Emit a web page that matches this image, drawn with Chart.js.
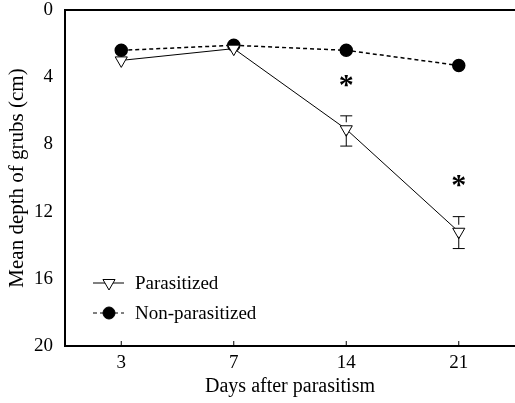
<!DOCTYPE html>
<html>
<head>
<meta charset="utf-8">
<script src="https://cdn.jsdelivr.net/npm/chart.js@4/dist/chart.umd.min.js"></script>
<style>
  html, body { margin: 0; padding: 0; background: #fff; }
  #wrap { width: 515px; height: 403px; }
</style>
</head>
<body>
<div id="wrap"><canvas id="chart"></canvas></div>
<script>
// data
const days = ['3', '7', '14', '21'];
const parasitized = [3.0, 2.3, 7.1, 13.2];
const nonParasitized = [2.4, 2.1, 2.4, 3.3];
const errTop = [null, null, 6.3, 12.3];
const errBottom = [null, null, 8.1, 14.2];
const starY = [null, null, 4.35, 10.3];
const yTicks = [0, 4, 8, 12, 16, 20];

const serif = '"Liberation Serif", "DejaVu Serif", serif';

// error bars + asterisks + top border + inward x ticks + legend
const extras = {
    id: 'extras',
    afterDatasetsDraw(chart) {
        const { ctx, chartArea, scales: { x, y } } = chart;
        ctx.save();
        ctx.strokeStyle = '#000';
        ctx.lineWidth = 1;

        // error bars
        days.forEach((d, i) => {
            if (errTop[i] == null) return;
            const px = x.getPixelForValue(i);
            const yc = y.getPixelForValue(parasitized[i]);
            const yt = y.getPixelForValue(errTop[i]);
            const yb = y.getPixelForValue(errBottom[i]);
            ctx.beginPath();
            ctx.moveTo(px, yt); ctx.lineTo(px, yc - 7);
            ctx.moveTo(px, yc + 5); ctx.lineTo(px, yb);
            ctx.moveTo(px - 6, yt); ctx.lineTo(px + 6, yt);
            ctx.moveTo(px - 6, yb); ctx.lineTo(px + 6, yb);
            ctx.stroke();
        });

        // asterisks
        ctx.fillStyle = '#000';
        ctx.font = 'bold 30px ' + serif;
        ctx.textAlign = 'center';
        ctx.textBaseline = 'middle';
        days.forEach((d, i) => {
            if (starY[i] == null) return;
            ctx.fillText('*', x.getPixelForValue(i), y.getPixelForValue(starY[i]) + 3);
        });

        // top border
        ctx.lineWidth = 2;
        ctx.beginPath();
        ctx.moveTo(chartArea.left, chartArea.top);
        ctx.lineTo(chartArea.right, chartArea.top);
        ctx.stroke();

        // inward ticks on x axis
        ctx.lineWidth = 1;
        days.forEach((d, i) => {
            const px = x.getPixelForValue(i);
            ctx.beginPath();
            ctx.moveTo(px, chartArea.bottom);
            ctx.lineTo(px, chartArea.bottom - 5);
            ctx.stroke();
        });

        // legend
        const rows = [
            { label: 'Parasitized', ds: chart.data.datasets[0], y: 283 },
            { label: 'Non-parasitized', ds: chart.data.datasets[1], y: 313 }
        ];
        ctx.font = '19px ' + serif;
        ctx.textAlign = 'left';
        ctx.textBaseline = 'middle';
        rows.forEach(r => {
            ctx.lineWidth = 1;
            ctx.strokeStyle = '#000';
            ctx.setLineDash(r.ds.borderDash || []);
            ctx.beginPath();
            ctx.moveTo(93, r.y); ctx.lineTo(124, r.y);
            ctx.stroke();
            ctx.setLineDash([]);
            ctx.fillStyle = r.ds.pointBackgroundColor;
            Chart.helpers.drawPoint(ctx, {
                pointStyle: r.ds.pointStyle,
                rotation: r.ds.pointRotation || 0,
                radius: r.ds.pointRadius,
                borderWidth: 1
            }, 109, r.y);
            ctx.fillStyle = '#000';
            ctx.fillText(r.label, 135, r.y + 1);
        });
        ctx.restore();
    }
};

new Chart(document.getElementById('chart'), {
    type: 'line',
    data: {
        labels: days,
        datasets: [
            {
                label: 'Parasitized',
                data: parasitized,
                borderColor: '#000',
                borderWidth: 1,
                pointStyle: 'triangle',
                pointRotation: 180,
                pointRadius: 7,
                pointBackgroundColor: '#fff',
                pointBorderColor: '#000',
                pointBorderWidth: 1,
                tension: 0
            },
            {
                label: 'Non-parasitized',
                data: nonParasitized,
                borderColor: '#000',
                borderWidth: 1.5,
                borderDash: [4, 3],
                pointStyle: 'circle',
                pointRadius: 6,
                pointBackgroundColor: '#000',
                pointBorderColor: '#000',
                tension: 0
            }
        ]
    },
    options: {
        responsive: true,
        maintainAspectRatio: false,
        animation: false,
        layout: { autoPadding: false, padding: { top: 10, right: 0, left: 0, bottom: 0 } },
        plugins: { legend: { display: false }, tooltip: { enabled: false } },
        scales: {
            x: {
                offset: true,
                grid: { display: true, drawOnChartArea: false, drawTicks: false, offset: false },
                border: { color: '#000', width: 2 },
                ticks: { color: '#000', font: { family: serif, size: 19 }, padding: 6 },
                title: { display: true, text: 'Days after parasitism', color: '#000', font: { family: serif, size: 20 }, padding: { top: 0, bottom: 4 } },
                afterFit(s) { s.height = 57; s.paddingLeft = 0; s.paddingRight = 0; }
            },
            y: {
                reverse: true,
                min: 0,
                max: 20,
                afterBuildTicks(s) { s.ticks = yTicks.map(v => ({ value: v })); },
                grid: { drawOnChartArea: false, drawTicks: false },
                border: { color: '#000', width: 2 },
                ticks: { color: '#000', font: { family: serif, size: 19 }, padding: 12 },
                title: { display: true, text: 'Mean depth of grubs (cm)', color: '#000', font: { family: serif, size: 21 }, padding: { top: 5, bottom: 0 } },
                afterFit(s) { s.width = 65; s.paddingTop = 0; s.paddingBottom = 0; }
            }
        }
    },
    plugins: [extras]
});
</script>
</body>
</html>
